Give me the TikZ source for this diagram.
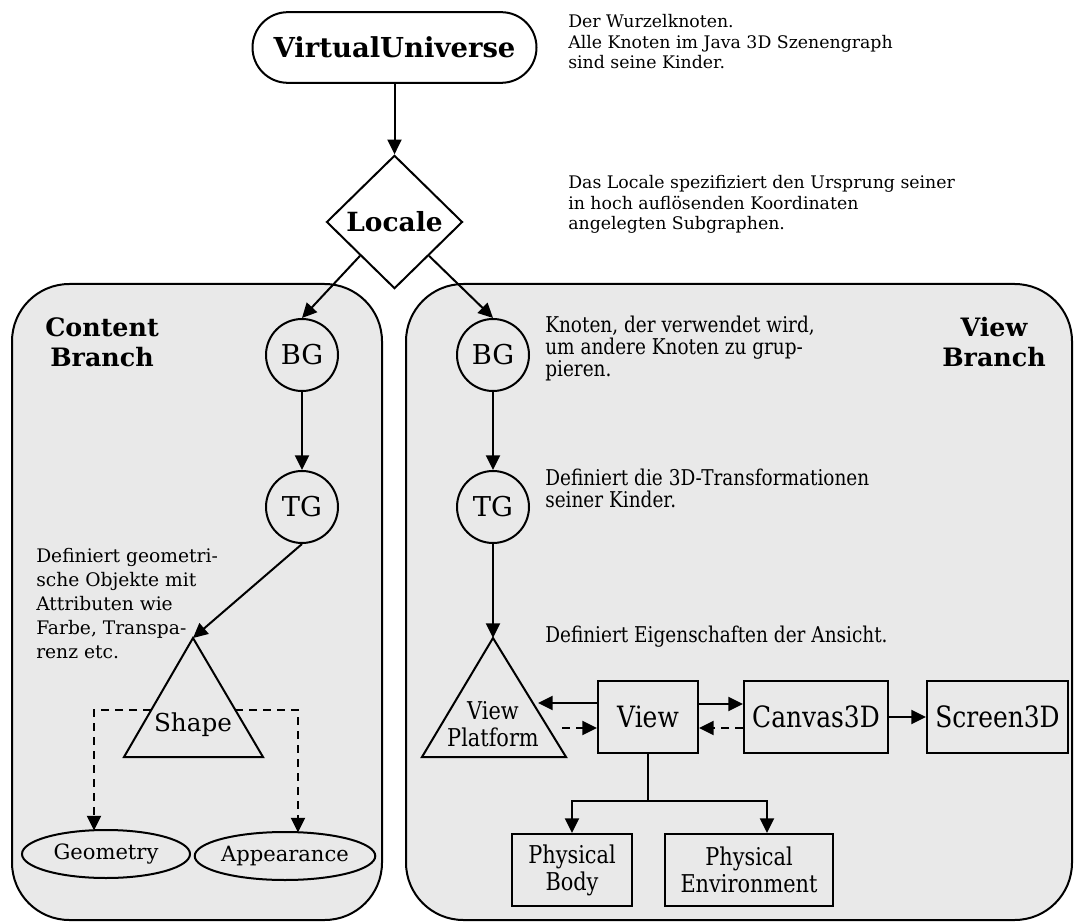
\documentclass[tikz,border=0pt]{standalone}
\usepackage{fontspec}
\setmainfont{DejaVu Serif}
\newfontfamily\narrowfont{DejaVu Serif}[FakeStretch=0.85]
\usetikzlibrary{shapes.geometric,arrows.meta}
\definecolor{panelgray}{RGB}{233,233,233}

\begin{document}
\begin{tikzpicture}[x=0.75pt,y=-0.75pt,
  edgew/.style={line width=1.5pt},
  arr/.style={edgew, -{Triangle[length=11pt,width=10.5pt]}},
  darr/.style={arr, dash pattern=on 6pt off 4.5pt},
  panel/.style={draw, line width=1.5pt, fill=panelgray, rounded corners=43pt},
  bigtitle/.style={font=\bfseries\fontsize{19}{22.5}\selectfont, align=center, inner sep=0},
  circ/.style={circle, draw, edgew, minimum size=54pt, inner sep=0, font=\fontsize{20.5}{24}\selectfont},
  vbox/.style={rectangle, draw, edgew, inner sep=0, minimum height=54pt, font=\narrowfont\fontsize{22}{24}\selectfont},
  pbox/.style={vbox, align=center, font=\narrowfont\fontsize{18.4}{20.25}\selectfont},
  blob/.style={ellipse, draw, edgew, minimum width=126pt, minimum height=36pt, inner sep=0, font=\fontsize{15.8}{18}\selectfont},
  note/.style={anchor=north west, inner sep=0, align=left, font=\fontsize{13}{15.5}\selectfont},
  rnote/.style={note, font=\narrowfont\fontsize{16.3}{16.5}\selectfont},
  lnote/.style={note, font=\fontsize{14}{18}\selectfont},
]
\useasboundingbox (0,0) rectangle (1074,923);

% the two branch panels
\draw[panel] (12,284) rectangle (382,920);
\draw[panel] (406,284) rectangle (1072,920);

% root of the scene graph
\node[draw, edgew, rounded corners=26.5pt, minimum width=213pt, minimum height=53pt,
      inner sep=0, font=\bfseries\fontsize{20.6}{24}\selectfont] (vu) at (394.5,47.5) {VirtualUniverse};
\node[diamond, draw, edgew, minimum width=102pt, minimum height=100pt, inner sep=0,
      font=\bfseries\fontsize{19.8}{22}\selectfont] (loc) at (394.5,222) {Locale};
\draw[arr] (vu.south) -- (loc.north);

\node[note] (n1) at (568,14) {Der Wurzelknoten.\\Alle Knoten im Java 3D Szenengraph\\sind seine Kinder.};
\node[note] (n2) at (568,175) {Das Locale spezifiziert den Ursprung seiner\\in hoch auflösenden Koordinaten\\angelegten Subgraphen.};

% branch titles
\node[bigtitle] (cb) at (102,342) {Content\\Branch};
\node[bigtitle] (vb) at (994,342) {View\\Branch};

% group nodes
\node[circ] (bgL) at (302,355) {BG};
\node[circ] (tgL) at (302,507) {TG};
\node[circ] (bgR) at (493,355) {BG};
\node[circ] (tgR) at (493,507) {TG};
\draw[arr] (loc.south west) -- (bgL.north);
\draw[arr] (loc.south east) -- (bgR.north);
\draw[arr] (bgL) -- (tgL);
\draw[arr] (bgR) -- (tgR);

% content branch: Shape leaf and its components
\coordinate (shapeTop) at (193,638);
\draw[edgew] (shapeTop) -- (124,757) -- (263,757) -- cycle;
\node[font=\fontsize{18.5}{22}\selectfont, inner sep=0] (shapeLbl) at (193,725) {Shape};
\draw[arr] (tgL.south) -- (shapeTop);

\node[blob] (geo) at (106,854) {Geometry};
\node[blob] (app) at (285,856) {Appearance};
\coordinate (sL) at (151,710);
\coordinate (sR) at (235,710);
\coordinate (geoIn) at (94,830.5);
\coordinate (appIn) at (298,832.5);
\draw[darr] (sL) -| (geoIn);
\draw[darr] (sR) -| (appIn);

\node[lnote] (n3) at (36,548) {Definiert geometri-\\sche Objekte mit\\Attributen wie\\Farbe, Transpa-\\renz etc.};

% view branch
\node[rnote] (n4) at (545,316) {Knoten, der verwendet wird,\\um andere Knoten zu grup-\\pieren.};
\node[rnote] (n5) at (545,469) {Definiert die 3D-Transformationen\\seiner Kinder.};
\node[rnote] (n6) at (545,626) {Definiert Eigenschaften der Ansicht.};

\coordinate (vpTop) at (493,638);
\draw[edgew] (vpTop) -- (422,757) -- (566,757) -- cycle;
\node[align=center, inner sep=0, font=\narrowfont\fontsize{18.4}{20.25}\selectfont] (vpLbl) at (493,724) {View\\Platform};
\draw[arr] (tgR.south) -- (vpTop);

\node[vbox, minimum width=75pt] (view) at (648,717) {View};
\node[vbox, minimum width=108pt] (canvas) at (816,717) {Canvas3D};
\node[vbox, minimum width=105.75pt] (screen) at (997.5,717) {Screen3D};
\node[pbox, minimum width=90pt] (body) at (572,870) {Physical\\Body};
\node[pbox, minimum width=126pt] (env) at (749,870) {Physical\\Environment};

\coordinate (vpR1) at (538,703);
\coordinate (vpR2) at (562,728);
\draw[arr] ([yshift=10.5pt]view.west) -- (vpR1);
\draw[darr] (vpR2) -- ([yshift=-8.25pt]view.west);
\draw[arr] ([yshift=9.75pt]view.east) -- ([yshift=9.75pt]canvas.west);
\draw[darr] ([yshift=-8.25pt]canvas.west) -- ([yshift=-8.25pt]view.east);
\draw[arr] (canvas) -- (screen);

\coordinate (split) at (648,801);
\draw[edgew] (view.south) -- (split);
\draw[arr] (split) -| (body.north);
\draw[arr] (split) -| ([xshift=13.5pt]env.north);
\end{tikzpicture}
\end{document}
